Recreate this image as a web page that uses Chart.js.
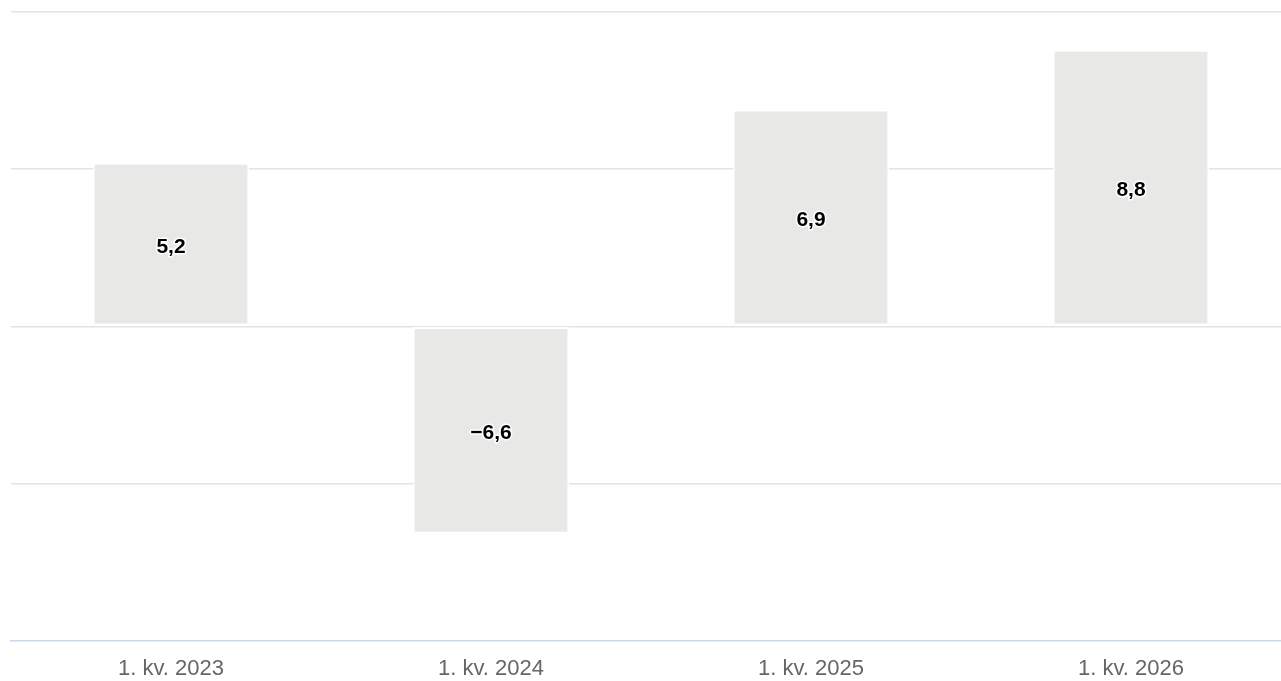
<!DOCTYPE html>
<html>
<head>
<meta charset="utf-8">
<script src="https://cdn.jsdelivr.net/npm/chart.js@4/dist/chart.umd.min.js"></script>
<style>
  html, body { margin: 0; padding: 0; background: #fff; overflow: hidden; }
  #wrap { width: 1291px; height: 689px; }
</style>
</head>
<body>
<div id="wrap"><canvas id="c"></canvas></div>
<script>
// data
const categories = ['1. kv. 2023', '1. kv. 2024', '1. kv. 2025', '1. kv. 2026'];
const values = [5.2, -6.6, 6.9, 8.8];
const yMin = -10, yMax = 10, yStep = 5;

const fmt = v => v.toFixed(1).replace('.', ',').replace('-', '\u2212');

// labels centred inside each bar, bold black with white outline
const barLabels = {
    id: 'barLabels',
    afterDatasetsDraw(chart) {
        const ctx = chart.ctx;
        const meta = chart.getDatasetMeta(0);
        ctx.save();
        ctx.font = 'bold 21px "Liberation Sans", Arial, sans-serif';
        ctx.textAlign = 'center';
        ctx.textBaseline = 'middle';
        ctx.lineJoin = 'round';
        meta.data.forEach((bar, i) => {
            const yc = (bar.y + bar.base) / 2 + 3;
            const txt = fmt(values[i]);
            ctx.strokeStyle = '#ffffff';
            ctx.lineWidth = 3;
            ctx.strokeText(txt, bar.x, yc);
            ctx.fillStyle = '#000000';
            ctx.fillText(txt, bar.x, yc);
        });
        ctx.restore();
    }
};

new Chart(document.getElementById('c'), {
    type: 'bar',
    data: {
        labels: categories,
        datasets: [{
            data: values,
            backgroundColor: '#e8e8e6',
            borderColor: '#ffffff',
            borderWidth: 2,
            borderSkipped: false,
            categoryPercentage: 1,
            barPercentage: 0.49
        }]
    },
    options: {
        responsive: true,
        maintainAspectRatio: false,
        animation: false,
        layout: { padding: { top: 12, left: 11, right: 0, bottom: 0 } },
        plugins: {
            legend: { display: false },
            tooltip: { enabled: false }
        },
        scales: {
            x: {
                grid: { display: false },
                border: { display: true, color: '#ccd6eb', width: 1.5 },
                ticks: {
                    color: '#666666',
                    padding: 7,
                    maxRotation: 0,
                    font: { family: '"Liberation Sans", Arial, sans-serif', size: 22 }
                }
            },
            y: {
                min: yMin,
                max: yMax,
                ticks: { display: false, stepSize: yStep },
                border: { display: false },
                grid: {
                    drawTicks: false,
                    color: c => (c.tick && c.tick.value === yMin) ? 'rgba(0,0,0,0)' : '#e3e3e3',
                    lineWidth: 1.5
                }
            }
        }
    },
    plugins: [barLabels]
});
</script>
</body>
</html>
